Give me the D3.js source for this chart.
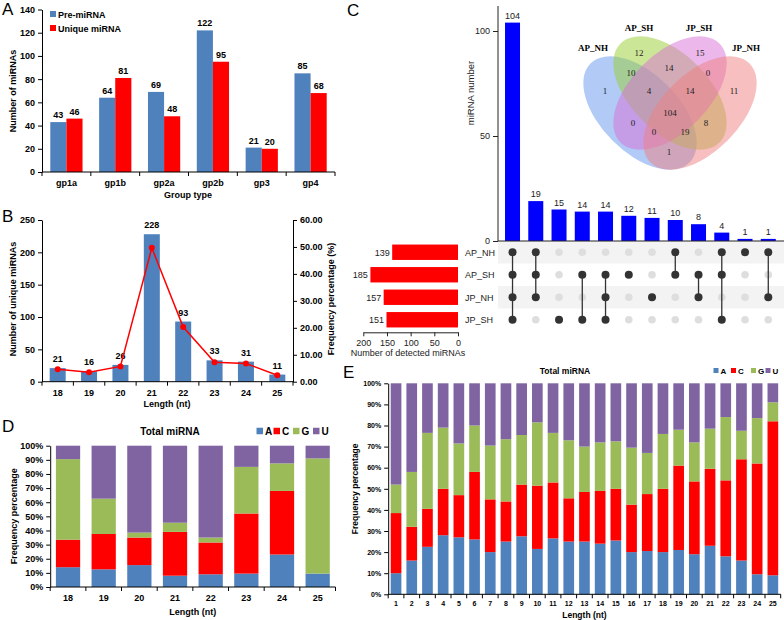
<!DOCTYPE html>
<html><head><meta charset="utf-8">
<script src="https://cdn.jsdelivr.net/npm/d3@7"></script>
<style>body{margin:0;background:#fff}svg{display:block}</style>
</head><body>
<svg id="chart" width="784" height="620"></svg>
<script>
// ---------------- DATA ----------------
// Panel A
const groupTypes = ["gp1a","gp1b","gp2a","gp2b","gp3","gp4"];
const preMiRNA = [43,64,69,122,21,85];
const uniqueMiRNA = [46,81,48,95,20,68];
const yTicksA = [0,20,40,60,80,100,120,140];
// Panel B
const lengthsB = ["18","19","20","21","22","23","24","25"];
const uniqueCounts = [21,16,26,228,93,33,31,11];
const freqPercent = [4.58,3.49,5.66,49.67,20.26,7.19,6.75,2.40];
const yTicksBLeft = [0,50,100,150,200,250];
const yTicksBRight = [0,10,20,30,40,50,60];
// Panel C (UpSet + Venn)
const setNames = ["AP_NH","AP_SH","JP_NH","JP_SH"];
const setSizes = [139,185,157,151];
const intersectionSizes = [104,19,15,14,14,12,11,10,8,4,1,1];
const intersectionMembers = [
  ["AP_NH","AP_SH","JP_NH","JP_SH"],
  ["AP_NH","AP_SH","JP_NH"],
  ["JP_SH"],
  ["AP_SH","JP_SH"],
  ["AP_SH","JP_NH","JP_SH"],
  ["AP_SH"],
  ["JP_NH"],
  ["AP_NH","AP_SH"],
  ["AP_SH","JP_NH"],
  ["AP_NH","AP_SH","JP_SH"],
  ["AP_NH"],
  ["AP_NH","JP_NH"]
];
const upsetYTicks = [0,50,100];
const setSizeTicks = [200,150,100,50,0];
const vennSetOrder = ["AP_NH","AP_SH","JP_SH","JP_NH"];
const vennRegionKeys = ["n1","n2","n3","n4","n12","n23","n34","n123","n234","n1234","n13","n134","n124","n24","n14"];
const vennRegionCounts = [1,12,15,11,10,14,0,4,14,104,0,0,19,8,1];
// Panel D
const nucleotides = ["A","C","G","U"];
const lengthsD = ["18","19","20","21","22","23","24","25"];
const dA = [14,12.5,15.5,8,9,9.5,23,9.5];
const dC = [19.5,25,19.5,31,22.5,42.5,45,0];
const dG = [57,25,3.5,6.5,3.5,33,19.5,81.5];
const dU = [9.5,37.5,61.5,54.5,65,15,12.5,9];
// Panel E
const positionsE = ["1","2","3","4","5","6","7","8","9","10","11","12","13","14","15","16","17","18","19","20","21","22","23","24","25"];
const eA = [10,16,22.5,28,27,26,20,25,27.5,21.5,26.5,25,25,24,25.5,20,20.5,20,21,19,23,18,16,9.5,9];
const eC = [28.5,16,18,22,20,32,25,19,24.5,30,26.5,20.5,23.5,25,24.5,22.5,27,30,40,34.5,36.5,36,48,52.5,73];
const eG = [13.5,26,36,29,24.5,22,25.5,29.5,23.5,30,23.5,27.5,21.5,23,22.5,27,19.5,26,17,18.5,19,30,13.5,21.5,9];
const eU = [48,42,23.5,21,28.5,20,29.5,26.5,24.5,18.5,23.5,27,30,28,27.5,30.5,33,24,22,28,21.5,16,22.5,16.5,9];
const pctTicks = [0,10,20,30,40,50,60,70,80,90,100];

// ---------------- STYLE ----------------
const F = "Arial, 'Liberation Sans', sans-serif";
const SERIF = "'Times New Roman', 'Liberation Serif', serif";
const BLUE = "#4f81bd", RED = "#ff0000", GREEN = "#9bbb59", PURPLE = "#8064a2";
const nucColor = {A:BLUE, C:RED, G:GREEN, U:PURPLE};
const svg = d3.select("#chart");

function txt(g, s, x, y, o = {}) {
  const t = g.append("text").attr("x", x).attr("y", y).text(s)
    .attr("font-family", o.family || F).attr("font-size", o.size || 9)
    .attr("font-weight", o.weight || "normal").attr("fill", o.fill || "#000")
    .attr("text-anchor", o.anchor || "start");
  if (o.rotate) t.attr("transform", `rotate(${o.rotate},${x},${y})`);
  return t;
}
function styleAxis(sel, size, weight, color) {
  sel.selectAll("text").attr("font-family", F).attr("font-size", size).attr("font-weight", weight).attr("fill", color || "#000");
  sel.selectAll("line").attr("stroke", color || "#000");
  sel.select(".domain").attr("stroke", color || "#000");
}
function bandBaseAxis(g, x, y0, n) {
  const [r0, r1] = x.range();
  g.append("line").attr("x1", r0).attr("x2", r1).attr("y1", y0).attr("y2", y0).attr("stroke", "#000");
  g.selectAll(null).data(d3.range(n + 1)).join("line")
    .attr("x1", i => r0 + i * x.step()).attr("x2", i => r0 + i * x.step())
    .attr("y1", y0).attr("y2", y0 + 4).attr("stroke", "#000");
}
function letter(s, x, y) { txt(svg, s, x, y, {size: 17}); }

// ---------------- PANEL A ----------------
{
  const g = svg.append("g");
  letter("A", 2, 15);
  const x = d3.scaleBand().domain(groupTypes).range([42, 335]).paddingInner(0.34).paddingOuter(0.17);
  const xi = d3.scaleBand().domain(["pre", "uniq"]).range([0, x.bandwidth()]);
  const y = d3.scaleLinear().domain([0, 140]).range([172, 9.5]);
  const series = [{k: "pre", v: preMiRNA, c: BLUE}, {k: "uniq", v: uniqueMiRNA, c: RED}];
  series.forEach(s => {
    g.selectAll(null).data(groupTypes).join("rect")
      .attr("x", d => x(d) + xi(s.k)).attr("width", xi.bandwidth())
      .attr("y", (d, i) => y(s.v[i])).attr("height", (d, i) => y(0) - y(s.v[i]))
      .attr("fill", s.c);
    g.selectAll(null).data(groupTypes).join("text")
      .attr("x", d => x(d) + xi(s.k) + xi.bandwidth() / 2)
      .attr("y", (d, i) => y(s.v[i]) - 4)
      .attr("text-anchor", "middle").attr("font-family", F).attr("font-size", 9).attr("font-weight", "bold")
      .text((d, i) => s.v[i]);
  });
  g.append("g").attr("transform", "translate(42,0)")
    .call(d3.axisLeft(y).tickValues(yTicksA).tickSize(4).tickSizeOuter(0))
    .call(a => styleAxis(a, 9, "bold"));
  bandBaseAxis(g, x, 172, groupTypes.length);
  g.selectAll(null).data(groupTypes).join("text")
    .attr("x", d => x(d) + x.bandwidth() / 2).attr("y", 186).attr("text-anchor", "middle")
    .attr("font-family", F).attr("font-size", 9).attr("font-weight", "bold").text(d => d);
  txt(g, "Group type", 188, 197.5, {anchor: "middle", weight: "bold"});
  txt(g, "Number of miRNAs", 16, 91, {anchor: "middle", weight: "bold", rotate: -90});
  g.append("rect").attr("x", 50).attr("y", 11).attr("width", 6).attr("height", 6).attr("fill", BLUE);
  txt(g, "Pre-miRNA", 58, 17.5, {weight: "bold"});
  g.append("rect").attr("x", 50).attr("y", 25).attr("width", 6).attr("height", 6).attr("fill", RED);
  txt(g, "Unique miRNA", 58, 31.5, {weight: "bold"});
}

// ---------------- PANEL B ----------------
{
  const g = svg.append("g");
  letter("B", 2, 222);
  const x = d3.scaleBand().domain(lengthsB).range([42, 293]).paddingInner(0.49).paddingOuter(0.245);
  const y = d3.scaleLinear().domain([0, 250]).range([381.7, 220]);
  const y2 = d3.scaleLinear().domain([0, 60]).range([381.7, 220]);
  g.selectAll(null).data(lengthsB).join("rect")
    .attr("x", d => x(d)).attr("width", x.bandwidth())
    .attr("y", (d, i) => y(uniqueCounts[i])).attr("height", (d, i) => y(0) - y(uniqueCounts[i]))
    .attr("fill", BLUE);
  g.selectAll(null).data(lengthsB).join("text")
    .attr("x", d => x(d) + x.bandwidth() / 2).attr("y", (d, i) => y(uniqueCounts[i]) - 6)
    .attr("text-anchor", "middle").attr("font-family", F).attr("font-size", 9).attr("font-weight", "bold")
    .text((d, i) => uniqueCounts[i]);
  const line = d3.line().x((d, i) => x(lengthsB[i]) + x.bandwidth() / 2).y(d => y2(d));
  g.append("path").attr("d", line(freqPercent)).attr("fill", "none").attr("stroke", RED).attr("stroke-width", 1.5);
  g.selectAll(null).data(freqPercent).join("circle")
    .attr("cx", (d, i) => x(lengthsB[i]) + x.bandwidth() / 2).attr("cy", d => y2(d)).attr("r", 3).attr("fill", RED);
  g.append("g").attr("transform", "translate(42,0)")
    .call(d3.axisLeft(y).tickValues(yTicksBLeft).tickSize(4).tickSizeOuter(0))
    .call(a => styleAxis(a, 9, "bold"));
  g.append("g").attr("transform", "translate(293,0)")
    .call(d3.axisRight(y2).tickValues(yTicksBRight).tickFormat(d3.format(".2f")).tickSize(4).tickSizeOuter(0))
    .call(a => styleAxis(a, 9, "bold"));
  bandBaseAxis(g, x, 381.7, lengthsB.length);
  g.selectAll(null).data(lengthsB).join("text")
    .attr("x", d => x(d) + x.bandwidth() / 2).attr("y", 396).attr("text-anchor", "middle")
    .attr("font-family", F).attr("font-size", 9).attr("font-weight", "bold").text(d => d);
  txt(g, "Length (nt)", 167, 407, {anchor: "middle", weight: "bold"});
  txt(g, "Number of unique miRNAs", 16, 299, {anchor: "middle", weight: "bold", rotate: -90});
  txt(g, "Frequency percentage (%)", 334, 299, {anchor: "middle", weight: "bold", rotate: -90});
}

// ---------------- STACKED PANELS D & E ----------------
function stackedPanel(o) {
  const g = svg.append("g");
  const rows = o.cats.map((c, i) => ({cat: c, A: o.A[i], C: o.C[i], G: o.G[i], U: o.U[i]}));
  const stack = d3.stack().keys(nucleotides)(rows);
  const x = d3.scaleBand().domain(o.cats).range(o.xr).paddingInner(0.32).paddingOuter(0.16);
  const y = d3.scaleLinear().domain([0, 100]).range(o.yr);
  stack.forEach(layer => {
    g.selectAll(null).data(layer).join("rect")
      .attr("x", d => x(d.data.cat)).attr("width", x.bandwidth())
      .attr("y", d => y(d[1])).attr("height", d => Math.max(0, y(d[0]) - y(d[1])))
      .attr("fill", nucColor[layer.key]);
  });
  g.append("g").attr("transform", `translate(${o.xr[0]},0)`)
    .call(d3.axisLeft(y).tickValues(pctTicks).tickFormat(d => d + "%").tickSize(4).tickSizeOuter(0))
    .call(a => styleAxis(a, o.tick, "bold"));
  bandBaseAxis(g, x, o.yr[0], o.cats.length);
  g.selectAll(null).data(o.cats).join("text")
    .attr("x", d => x(d) + x.bandwidth() / 2).attr("y", o.catY).attr("text-anchor", "middle")
    .attr("font-family", F).attr("font-size", o.tick).attr("font-weight", "bold").text(d => d);
  const xc = (o.xr[0] + o.xr[1]) / 2, yc = (o.yr[0] + o.yr[1]) / 2;
  txt(g, "Length (nt)", xc, o.lenY, {anchor: "middle", weight: "bold", size: o.lab});
  txt(g, "Frequency percentage", o.ylabX, yc, {anchor: "middle", weight: "bold", size: o.lab, rotate: -90});
  txt(g, "Total miRNA", o.titleX, o.titleY, {anchor: "middle", weight: "bold", size: o.title});
  // legend
  nucleotides.forEach((n, i) => {
    const lx = o.legX[i];
    g.append("rect").attr("x", lx).attr("y", o.legY - o.sq / 2 - 0.5).attr("width", o.sq).attr("height", o.sq).attr("fill", nucColor[n]);
    txt(g, n, lx + o.sq + 2, o.legY + o.lab * 0.36, {weight: "bold", size: o.leg});
  });
}
letter("D", 2, 432);
stackedPanel({cats: lengthsD, A: dA, C: dC, G: dG, U: dU, xr: [50.2, 335.5], yr: [587, 445.7],
  tick: 9, lab: 9, title: 10, leg: 10, catY: 601, lenY: 614.5, ylabX: 17, titleX: 170, titleY: 434.5,
  legX: [256.5, 273.5, 293, 313], legY: 431.5, sq: 6.5});
letter("E", 343, 378);
stackedPanel({cats: positionsE, A: eA, C: eC, G: eG, U: eU, xr: [388.2, 780.7], yr: [594.3, 383.3],
  tick: 7, lab: 8.5, title: 8.5, leg: 8, catY: 606, lenY: 617.5, ylabX: 358.5, titleX: 565, titleY: 374,
  legX: [713.5, 731, 751, 765.5], legY: 371, sq: 5});

// ---------------- PANEL C : UpSet ----------------
{
  const g = svg.append("g");
  letter("C", 347, 15.5);
  const cols = intersectionSizes.map((d, i) => i);
  const x = d3.scaleBand().domain(cols).range([500.9, 779.9]).paddingInner(0.355).paddingOuter(0.1775);
  const y = d3.scaleLinear().domain([0, 100]).range([241, 31]);
  const rowY = d3.scaleBand().domain(setNames).range([241, 331]);
  const ry = s => rowY(s) + rowY.bandwidth() / 2;
  // row shading
  g.selectAll(null).data(setNames.filter((s, i) => i % 2 === 0)).join("rect")
    .attr("x", 498).attr("width", 286).attr("y", s => rowY(s)).attr("height", rowY.bandwidth())
    .attr("fill", "#f3f3f3");
  // bars
  g.selectAll(null).data(cols).join("rect")
    .attr("x", i => x(i)).attr("width", x.bandwidth())
    .attr("y", i => y(intersectionSizes[i])).attr("height", i => y(0) - y(intersectionSizes[i]))
    .attr("fill", "#0000ff");
  g.selectAll(null).data(cols).join("text")
    .attr("x", i => x(i) + x.bandwidth() / 2).attr("y", i => y(intersectionSizes[i]) - 4)
    .attr("text-anchor", "middle").attr("font-family", F).attr("font-size", 9).attr("fill", "#222")
    .text(i => intersectionSizes[i]);
  // axes
  g.append("line").attr("x1", 498).attr("x2", 498).attr("y1", 6).attr("y2", 241).attr("stroke", "#222");
  g.append("line").attr("x1", 498).attr("x2", 784).attr("y1", 241).attr("y2", 241).attr("stroke", "#222");
  g.append("g").attr("transform", "translate(498,0)")
    .call(d3.axisLeft(y).tickValues(upsetYTicks).tickSize(5).tickSizeOuter(0))
    .call(a => { styleAxis(a, 9, "normal", "#222"); a.select(".domain").remove(); });
  txt(g, "miRNA number", 474, 93, {anchor: "middle", size: 9.5, rotate: -90, fill: "#222"});
  // matrix
  cols.forEach(i => {
    const mem = intersectionMembers[i];
    const ys = mem.map(ry);
    const cx = x(i) + x.bandwidth() / 2;
    setNames.forEach(s => {
      if (!mem.includes(s)) g.append("circle").attr("cx", cx).attr("cy", ry(s)).attr("r", 3.8).attr("fill", "#dedede");
    });
    if (mem.length > 1) g.append("line").attr("x1", cx).attr("x2", cx)
      .attr("y1", d3.min(ys)).attr("y2", d3.max(ys)).attr("stroke", "#333").attr("stroke-width", 1.3);
    mem.forEach(s => g.append("circle").attr("cx", cx).attr("cy", ry(s)).attr("r", 4).attr("fill", "#333"));
  });
  g.selectAll(null).data(setNames).join("text")
    .attr("x", 465).attr("y", s => ry(s) + 3.3).attr("font-family", F).attr("font-size", 9).attr("fill", "#222")
    .text(s => s);
  // set size bars
  const xs = d3.scaleLinear().domain([0, 200]).range([458, 363.3]);
  g.selectAll(null).data(setNames).join("rect")
    .attr("x", (s, i) => xs(setSizes[i])).attr("width", (s, i) => xs(0) - xs(setSizes[i]))
    .attr("y", s => ry(s) - 7.7).attr("height", 15.4).attr("fill", RED);
  g.selectAll(null).data(setNames).join("text")
    .attr("x", (s, i) => xs(setSizes[i]) - 2.5).attr("y", s => ry(s) + 3.3).attr("text-anchor", "end")
    .attr("font-family", F).attr("font-size", 9).attr("fill", "#222").text((s, i) => setSizes[i]);
  g.append("g").attr("transform", "translate(0,332.3)")
    .call(d3.axisBottom(xs).tickValues(setSizeTicks).tickSize(4).tickSizeOuter(0))
    .call(a => styleAxis(a, 9, "normal", "#222"));
  txt(g, "Number of detected miRNAs", 408, 356, {anchor: "middle", size: 9, fill: "#222"});
}

// ---------------- PANEL C : Venn ----------------
{
  const g = svg.append("g");
  const cx = 670, cy = 93;
  const vennGeom = {
    AP_NH: {dx: -30, dy: 20, rot: 45, fill: "#6495ed"},
    AP_SH: {dx: 0, dy: 0, rot: 45, fill: "#9acd32"},
    JP_SH: {dx: 0, dy: 0, rot: -45, fill: "#da70d6"},
    JP_NH: {dx: 30, dy: 20, rot: -45, fill: "#f08080"}
  };
  g.selectAll(null).data(vennSetOrder).join("ellipse")
    .attr("cx", 0).attr("cy", 0).attr("rx", 70).attr("ry", 39)
    .attr("transform", s => `translate(${cx + vennGeom[s].dx},${cy + vennGeom[s].dy}) rotate(${vennGeom[s].rot})`)
    .attr("fill", s => vennGeom[s].fill).attr("fill-opacity", 0.5).attr("stroke", "none");
  const vennTitlePos = {AP_NH: [-77, -45], AP_SH: [-31, -65], JP_SH: [29, -65], JP_NH: [76, -45]};
  g.selectAll(null).data(vennSetOrder).join("text")
    .attr("x", s => cx + vennTitlePos[s][0]).attr("y", s => cy + vennTitlePos[s][1] + 3)
    .attr("text-anchor", "middle").attr("font-family", SERIF).attr("font-weight", "bold").attr("font-size", 9)
    .text(s => s);
  const regionPos = {n1: [-65, -2], n2: [-31, -40], n3: [30, -40], n4: [64, -2], n12: [-39, -20], n23: [-1, -25],
    n34: [38, -20], n123: [-21, -2], n234: [20, -2], n1234: [0, 20], n13: [-37, 30], n134: [-16, 39],
    n124: [15, 39], n24: [36, 30], n14: [-1, 59]};
  g.selectAll(null).data(vennRegionKeys).join("text")
    .attr("x", k => cx + regionPos[k][0]).attr("y", k => cy + regionPos[k][1] + 3)
    .attr("text-anchor", "middle").attr("font-family", SERIF).attr("font-size", 9).attr("fill", "#222")
    .text((k, i) => vennRegionCounts[i]);
}
</script>
</body></html>
